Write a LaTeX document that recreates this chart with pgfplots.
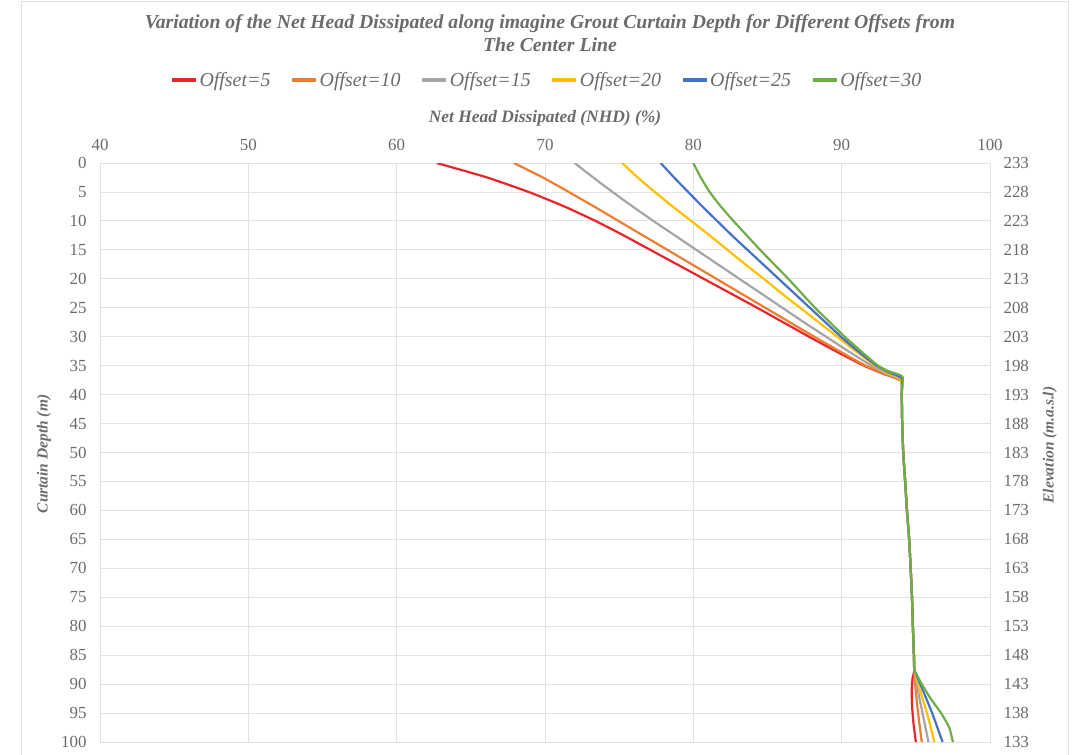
\documentclass[border=0pt]{standalone}
\usepackage{fontspec}
\setmainfont{Liberation Serif}
\usepackage{pgfplots}
\pgfplotsset{compat=1.18}
\definecolor{cRed}{HTML}{E8262A}
\definecolor{cOrange}{HTML}{ED7D31}
\definecolor{cGray}{HTML}{A5A5A5}
\definecolor{cYellow}{HTML}{FFC000}
\definecolor{cBlue}{HTML}{4472C4}
\definecolor{cGreen}{HTML}{70AD47}
\definecolor{txt}{HTML}{6B6B6B}
\definecolor{gridc}{HTML}{E2E2E2}
\begin{document}
\begin{tikzpicture}
\begin{axis}[
  name=main,
  scale only axis, width=890bp, height=579bp,
  xmin=40, xmax=100, ymin=0, ymax=100, y dir=reverse,
  xtick={40,50,...,100}, ytick={0,5,...,100},
  xticklabel pos=top,
  xmajorgrids, ymajorgrids,
  grid style={gridc, line width=0.9bp},
  axis line style={gridc, line width=0.9bp},
  tick style={draw=none},
  major tick length=0pt,
  tick label style={font=\fontsize{17}{19}\selectfont, text=txt},
  /pgf/number format/assume math mode=true,
  xticklabel style={yshift=9bp},
  yticklabel style={xshift=-10bp},
  clip mode=individual,
  legend columns=6,
  legend style={at={(0.502,1.1434)}, anchor=center, draw=none, fill=none,
    font=\itshape\fontsize{20}{22}\selectfont, text=txt,
    /tikz/every even column/.append style={column sep=18bp},
    inner sep=0pt},
  legend image code/.code={\draw[#1, line width=3.2bp] (0bp,0bp) -- (24bp,0bp);},
  every axis plot/.append style={line width=2.2bp, smooth, tension=0.3},
]
% Offset=5
\addplot[cRed] coordinates {
 (62.7,0) (66.1,2.5) (68.9,5) (71.3,7.5) (73.4,10) (75.3,12.5) (77.1,15) (78.9,17.5) (80.7,20) (82.5,22.5) (84.3,25)
 (86.05,27.5) (87.8,30) (89.6,32.5) (91.5,35) (92.7,36.3) (94.0,37.6)
 (94.05,40) (94.08,45) (94.15,50) (94.28,55) (94.4,60) (94.55,65) (94.65,70) (94.74,75) (94.8,80) (94.87,85) (94.9,87.5)
 (94.78,89) (94.72,91) (94.75,94) (94.85,97) (95.0,100)};
% Offset=10
\addplot[cOrange] coordinates {
 (67.9,0) (69.85,2.5) (71.6,5) (73.3,7.5) (74.95,10) (76.6,12.5) (78.25,15) (79.9,17.5) (81.55,20) (83.2,22.5) (84.85,25)
 (86.5,27.5) (88.15,30) (89.85,32.5) (91.6,35) (92.75,36.3) (94.0,37.6)
 (94.05,40) (94.08,45) (94.15,50) (94.28,55) (94.4,60) (94.55,65) (94.65,70) (94.74,75) (94.8,80) (94.87,85) (94.9,87.5)
 (94.95,90) (95.15,95) (95.4,100)};
% Offset=15
\addplot[cGray] coordinates {
 (72.0,0) (73.25,2.5) (74.55,5) (75.9,7.5) (77.3,10) (78.75,12.5) (80.2,15) (81.65,17.5) (83.1,20) (84.55,22.5) (86.0,25)
 (87.45,27.5) (88.95,30) (90.45,32.5) (92.0,35) (92.95,36.3) (94.0,37.5)
 (94.05,40) (94.08,45) (94.15,50) (94.28,55) (94.4,60) (94.55,65) (94.65,70) (94.74,75) (94.8,80) (94.87,85) (94.9,87.5)
 (95.05,90) (95.45,95) (95.85,100)};
% Offset=20
\addplot[cYellow] coordinates {
 (75.2,0) (76.25,2.5) (77.4,5) (78.6,7.5) (79.85,10) (81.1,12.5) (82.3,15) (83.5,17.5) (84.75,20) (85.95,22.5) (87.2,25)
 (88.45,27.5) (89.7,30) (90.95,32.5) (92.25,35) (93.05,36.2) (94.0,37.4)
 (94.05,40) (94.08,45) (94.15,50) (94.28,55) (94.4,60) (94.55,65) (94.65,70) (94.74,75) (94.8,80) (94.87,85) (94.9,87.5)
 (95.15,90) (95.75,95) (96.25,100)};
% Offset=25
\addplot[cBlue] coordinates {
 (77.8,0) (78.7,2.5) (79.65,5) (80.6,7.5) (81.6,10) (82.6,12.5) (83.65,15) (84.7,17.5) (85.75,20) (86.8,22.5) (87.85,25)
 (88.9,27.5) (89.95,30) (91.1,32.5) (92.35,35) (93.15,36.1) (94.05,37.2)
 (94.05,40) (94.08,45) (94.15,50) (94.28,55) (94.4,60) (94.55,65) (94.65,70) (94.74,75) (94.8,80) (94.87,85) (94.9,87.5)
 (95.3,90) (96.1,95) (96.8,100)};
% Offset=30
\addplot[cGreen] coordinates {
 (80.0,0) (80.5,2.5) (81.1,5) (81.85,7.5) (82.7,10) (83.6,12.5) (84.5,15) (85.45,17.5) (86.4,20) (87.3,22.5) (88.2,25)
 (89.2,27.5) (90.2,30) (91.3,32.5) (92.45,35) (93.2,36) (94.1,36.9)
 (94.05,40) (94.08,45) (94.15,50) (94.28,55) (94.4,60) (94.55,65) (94.65,70) (94.74,75) (94.8,80) (94.87,85) (94.9,87.5)
 (95.4,90) (96.0,92.5) (96.7,95) (97.25,97.5) (97.5,100)};
\legend{Offset=5,Offset=10,Offset=15,Offset=20,Offset=25,Offset=30}
\node[align=center, font=\bfseries\itshape\fontsize{19.8}{23}\selectfont, text=txt]
  at (rel axis cs:0.5056,1.2237) {Variation of the Net Head Dissipated along imagine Grout Curtain Depth for Different Offsets from\\The Center Line};
\node[font=\bfseries\itshape\fontsize{17.5}{19}\selectfont, text=txt]
  at (rel axis cs:0.5,1.0777) {Net Head Dissipated (NHD) (\%)};
\node[rotate=90, font=\bfseries\itshape\fontsize{15.5}{17}\selectfont, text=txt]
  at (rel axis cs:-0.0629,0.4974) {Curtain Depth (m)};
\node[rotate=90, font=\bfseries\itshape\fontsize{15.5}{17}\selectfont, text=txt]
  at (rel axis cs:1.0674,0.513) {Elevation (m.a.s.l)};
\draw[gridc, line width=1bp] (rel axis cs:-0.08764,-0.04) -- (rel axis cs:-0.08764,1.27807) -- (rel axis cs:1.08764,1.27807) -- (rel axis cs:1.08764,-0.04);
\coordinate (bbSW) at (rel axis cs:-0.11236,-0.02245);
\coordinate (bbNE) at (rel axis cs:1.09438,1.28152);
\end{axis}
\begin{axis}[
  scale only axis, width=890bp, height=579bp,
  xmin=40, xmax=100, ymin=133, ymax=233,
  ytick={133,138,...,233},
  hide x axis,
  axis y line*=right,
  axis line style={gridc, line width=0.9bp},
  tick style={draw=none},
  major tick length=0pt,
  tick label style={font=\fontsize{17}{19}\selectfont, text=txt},
  /pgf/number format/assume math mode=true,
  yticklabel style={xshift=10bp},
]
\addplot[draw=none] coordinates {(40,133) (100,233)};
\end{axis}
\pgfresetboundingbox
\useasboundingbox (bbSW) rectangle (bbNE);
\end{tikzpicture}
\end{document}
